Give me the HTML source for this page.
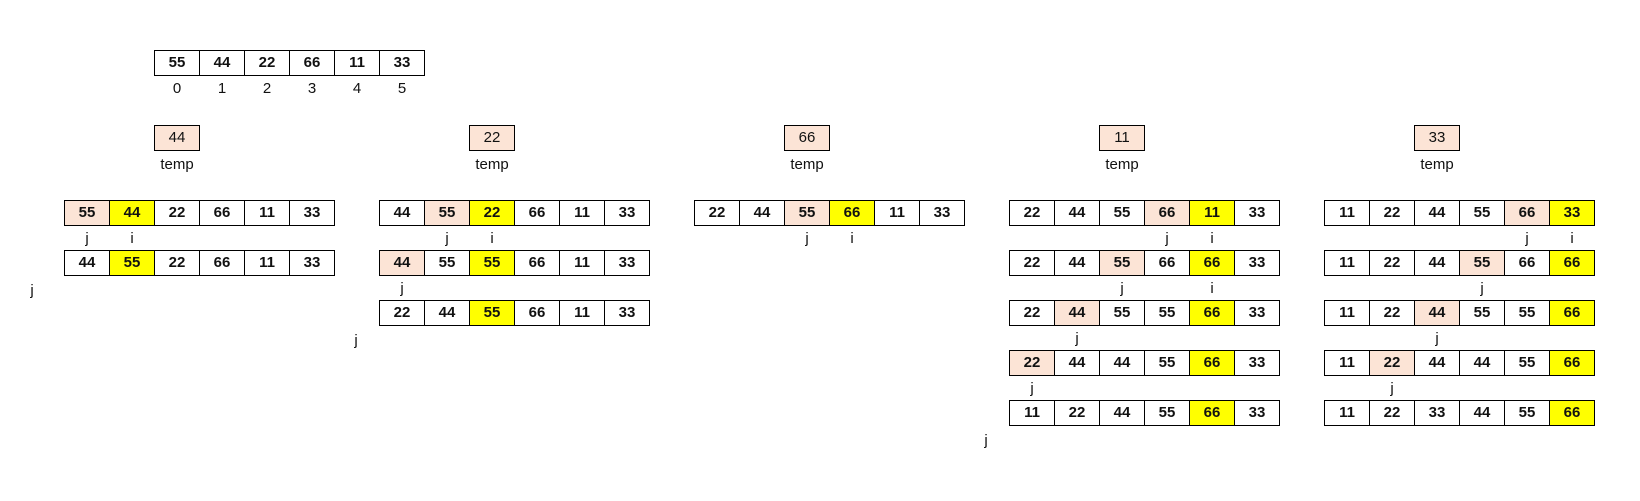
<!DOCTYPE html>
<html><head><meta charset="utf-8">
<style>
body{margin:0;width:1640px;height:501px;background:#fff;position:relative;overflow:hidden;font-family:"Liberation Sans",sans-serif;}
.c{position:absolute;box-sizing:border-box;border:1px solid #000;height:26px;width:46px;text-align:center;line-height:24px;font-weight:bold;font-size:15px;color:#111;background:#fff}
.t{position:absolute;text-align:center;font-size:15px;width:46px;color:#111}
.pk{background:#fce4d6}.yl{background:#ffff00}
</style></head><body>
<script>
const topArr=[55,44,22,66,11,33];
const temps=[44,22,66,11,33];
const blockRows=[
 [[55,44,22,66,11,33],[44,55,22,66,11,33]],
 [[44,55,22,66,11,33],[44,55,55,66,11,33],[22,44,55,66,11,33]],
 [[22,44,55,66,11,33]],
 [[22,44,55,66,11,33],[22,44,55,66,66,33],[22,44,55,55,66,33],[22,44,44,55,66,33],[11,22,44,55,66,33]],
 [[11,22,44,55,66,33],[11,22,44,55,66,66],[11,22,44,55,55,66],[11,22,44,44,55,66],[11,22,33,44,55,66]]
];
const pinkIdx=[[0,-1],[1,0,-1],[2],[3,2,1,0,-1],[4,3,2,1,-1]];
const yellowIdx=[[1,1],[2,2,2],[3],[4,4,4,4,4],[5,5,5,5,5]];
const jIdx=[[0,-1],[1,0,-1],[2],[3,2,1,0,-1],[4,3,2,1,-1]];
const iIdx=[[1,-1],[2,-1,-1],[3],[4,4,-1,-1,-1],[5,-1,-1,-1,-1]];
const trailingJ=[true,true,false,true,false];
const CW=45,X0=64,BS=315,Y0=200,RS=50;
function cell(x,y,v,cls,name){const d=document.createElement('div');d.className='c '+(cls||'');d.style.left=x+'px';d.style.top=y+'px';d.textContent=v;


document.body.appendChild(d);return d;}
function lbl(x,y,t,name){const d=document.createElement('div');d.className='t';d.style.left=x+'px';d.style.top=y+'px';d.textContent=t;


document.body.appendChild(d);}
topArr.forEach((v,k)=>{cell(154+k*CW,50,v,'','top-array-cell');lbl(154+k*CW,80,String(k),'index-label');});
blockRows.forEach((rows,b)=>{
 const bx=X0+b*BS;
 const tc=cell(bx+2*CW,125,temps[b],'pk','temp-box');tc.style.fontWeight='normal';
 lbl(bx+2*CW,156,'temp','temp-label');
 rows.forEach((r,ri)=>{
  const y=Y0+ri*RS;
  r.forEach((v,k)=>{let cls='';if(k===pinkIdx[b][ri])cls='pk';if(k===yellowIdx[b][ri])cls='yl';cell(bx+k*CW,y,v,cls,'array-cell');});
  if(jIdx[b][ri]>=0)lbl(bx+jIdx[b][ri]*CW,y+30,'j','j-pointer');
  if(iIdx[b][ri]>=0)lbl(bx+iIdx[b][ri]*CW,y+30,'i','i-pointer');
 });
 if(trailingJ[b])lbl(bx-(b===0?55:46),Y0+rows.length*RS-18,'j','j-pointer-end');
});
</script>
</body></html>
